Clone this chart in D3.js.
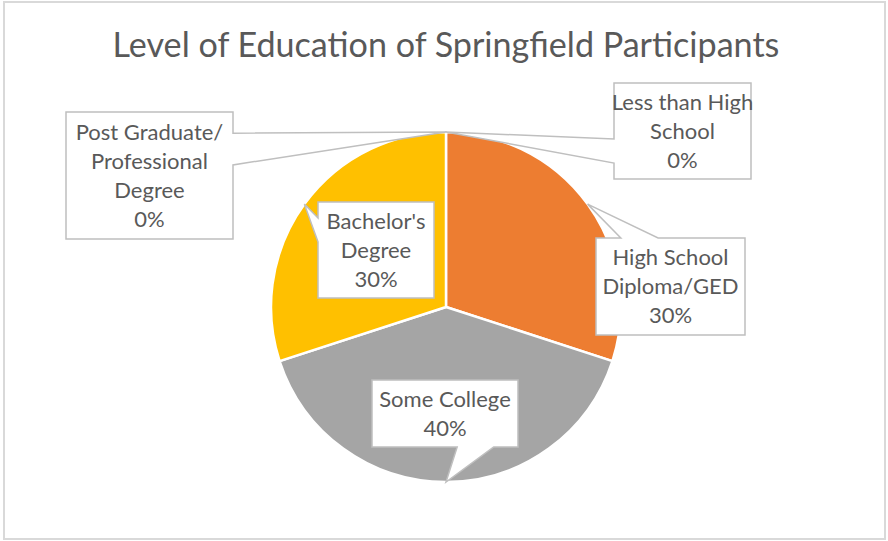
<!DOCTYPE html>
<html><head><meta charset="utf-8">
<script src="https://cdn.jsdelivr.net/npm/d3@7"></script>
<style>body{margin:0;background:#fff;overflow:hidden}</style>
</head><body><svg id="c" width="888" height="541"></svg>
<script>
// ---- data ----
const title = "Level of Education of Springfield Participants";
const categories = ["Less than High School", "High School Diploma/GED", "Some College", "Bachelor's Degree", "Post Graduate/ Professional Degree"];
const values = [0, 30, 40, 30, 0];
const percentLabels = ["0%", "30%", "40%", "30%", "0%"];
const labelLines = [["Less than High", "School"], ["High School", "Diploma/GED"], ["Some College"], ["Bachelor's", "Degree"], ["Post Graduate/", "Professional", "Degree"]];

// ---- layout / style ----
const colors = ["#5B9BD5", "#ED7D31", "#A5A5A5", "#FFC000", "#4472C4"];
const labelBoxes = [
  {x: 614, y: 83, w: 137, h: 96},
  {x: 596, y: 238, w: 149, h: 97},
  {x: 372, y: 380, w: 146, h: 67},
  {x: 318, y: 202, w: 116, h: 96},
  {x: 66, y: 112, w: 167, h: 127}
];
const cx = 446, cy = 307, R = 175;
const FONT = "Lato, 'Open Sans', sans-serif";
const TXT = "#595959";

const svg = d3.select("#c");
svg.append("rect").attr("x", 4).attr("y", 2).attr("width", 881).attr("height", 537)
  .attr("fill", "#fff").attr("stroke", "#d9d9d9").attr("stroke-width", 2);

// title
const t = svg.append("text").attr("x", 446).attr("y", 57).attr("text-anchor", "middle")
  .attr("font-family", FONT).attr("font-size", 30).attr("fill", TXT).text(title);
const tw = t.node().getComputedTextLength();
t.attr("font-size", 30 * 667 / tw);

const pie = d3.pie().sort(null).value(d => d)(values);
const arc = d3.arc().innerRadius(0).outerRadius(R);
const edge = d3.arc().innerRadius(R).outerRadius(R);

const g = svg.append("g").attr("transform", `translate(${cx},${cy})`);
g.selectAll("path").data(pie.filter(d => d.value > 0)).join("path")
  .attr("d", arc).attr("fill", d => colors[d.index])
  .attr("stroke", "#fff").attr("stroke-width", 2.5).attr("stroke-linejoin", "round");

function callout(b, px, py) {
  const bx = b.x + b.w / 2, by = b.y + b.h / 2;
  const dx = px - bx, dy = py - by;
  const dq = dx * b.h / b.w;
  const vertical = Math.abs(dy) - Math.abs(dq) > 0;
  const l = b.x, tp = b.y, r = b.x + b.w, bt = b.y + b.h;
  const xa = b.x + b.w * (dx > 0 ? 7 : 2) / 12, xb = b.x + b.w * (dx > 0 ? 10 : 5) / 12;
  const ya = b.y + b.h * (dy > 0 ? 7 : 2) / 12, yb = b.y + b.h * (dy > 0 ? 10 : 5) / 12;
  const p = d3.path();
  p.moveTo(l, tp);
  if (vertical && dy < 0) { p.lineTo(xa, tp); p.lineTo(px, py); p.lineTo(xb, tp); }
  p.lineTo(r, tp);
  if (!vertical && dx > 0) { p.lineTo(r, ya); p.lineTo(px, py); p.lineTo(r, yb); }
  p.lineTo(r, bt);
  if (vertical && dy > 0) { p.lineTo(xb, bt); p.lineTo(px, py); p.lineTo(xa, bt); }
  p.lineTo(l, bt);
  if (!vertical && dx < 0) { p.lineTo(l, yb); p.lineTo(px, py); p.lineTo(l, ya); }
  p.closePath();
  return p.toString();
}

const LH = 29, FS = 22;
pie.forEach((d, i) => {
  const b = labelBoxes[i];
  const [ex, ey] = edge.centroid(d);
  const px = cx + ex, py = cy + ey;
  const lg = svg.append("g").attr("class", "label");
  lg.append("path").attr("d", callout(b, px, py))
    .attr("fill", "#fff").attr("stroke", "#bfbfbf").attr("stroke-width", 1.5).attr("stroke-linejoin", "miter");
  const lines = labelLines[i].concat([percentLabels[i]]);
  const n = lines.length;
  const tx = lg.append("text").attr("text-anchor", "middle")
    .attr("font-family", FONT).attr("font-size", FS).attr("fill", TXT);
  lines.forEach((s, k) => {
    tx.append("tspan").attr("x", b.x + b.w / 2)
      .attr("y", b.y + b.h / 2 + (k - (n - 1) / 2) * LH + FS * 0.36).text(s);
  });
});
</script>
</body></html>
